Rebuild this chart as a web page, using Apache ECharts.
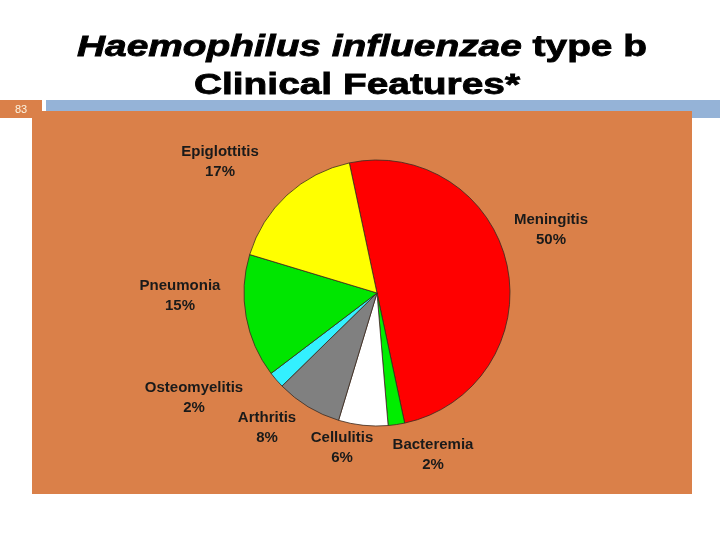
<!DOCTYPE html>
<html>
<head>
    <meta charset="utf-8">
    <title>Hib Clinical Features</title>
    <script src="https://cdn.jsdelivr.net/npm/echarts@6/dist/echarts.min.js"></script>
    <style>
        html, body { margin: 0; padding: 0; background: #fff; }
        #main { width: 720px; height: 540px; }
    </style>
</head>
<body>
<div id="main"></div>
<script>
    // slices in clockwise order from the top
    var features = ['Meningitis', 'Bacteremia', 'Cellulitis', 'Arthritis', 'Osteomyelitis', 'Pneumonia', 'Epiglottitis'];
    var percents = [50, 2, 6, 8, 2, 15, 17];
    var colors = ['#ff0000', '#00ee00', '#ffffff', '#808080', '#33f0ff', '#00e600', '#ffff00'];

    // label centres (hand placed, like the slide)
    var labelPos = [[551, 230], [433, 455], [342, 448], [267, 428], [194, 398], [180, 296], [220, 162]];

    var orange = '#da8049';
    var font = '"Liberation Sans", Arial, sans-serif';

    var pieData = features.map(function (name, i) {
        return { name: name, value: percents[i], itemStyle: { color: colors[i] } };
    });

    // slide title: wide heavy face, so stretch Liberation Sans a bit
    function titleLine(text, x, y) {
        return {
            type: 'text',
            z: -5,
            x: x,
            y: y,
            scaleX: 1.34,
            style: {
                text: text,
                font: 'bold 29px ' + font,
                fill: '#000',
                stroke: '#000',
                lineWidth: 0.8,
                align: 'center',
                verticalAlign: 'middle',
                rich: {
                    i: { font: 'italic bold 29px ' + font, fill: '#000', stroke: '#000', lineWidth: 0.8 }
                }
            }
        };
    }

    var myChart = echarts.init(document.getElementById('main'));
    myChart.setOption({
        backgroundColor: '#fff',
        animation: false,
        graphic: [
            { type: 'rect', z: -10, shape: { x: 46, y: 100, width: 674, height: 18 }, style: { fill: '#95b3d7' } },
            { type: 'rect', z: -9, shape: { x: 0, y: 100, width: 42, height: 18 }, style: { fill: orange } },
            { type: 'rect', z: -9, shape: { x: 32, y: 111, width: 660, height: 383 }, style: { fill: orange } },
            { type: 'text', z: -8, x: 21, y: 110, style: { text: '83', fill: '#fdf3e0', font: '11px ' + font, align: 'center', verticalAlign: 'middle' } },
            titleLine('{i|Haemophilus influenzae} type b', 362, 48),
            titleLine('Clinical Features*', 357, 86)
        ],
        series: [{
            type: 'pie',
            center: [377, 293],
            radius: 133,
            startAngle: 102,
            clockwise: true,
            data: pieData,
            itemStyle: { borderColor: '#3a2a20', borderWidth: 0.8 },
            label: {
                show: true,
                position: 'outside',
                formatter: '{b}\n{c}%',
                fontFamily: font,
                fontSize: 15,
                fontWeight: 'bold',
                color: '#1a1a1a',
                lineHeight: 20,
                align: 'center'
            },
            labelLine: { show: false },
            labelLayout: function (params) {
                var p = labelPos[params.dataIndex];
                return { x: p[0], y: p[1], align: 'center', verticalAlign: 'middle' };
            },
            emphasis: { disabled: true }
        }]
    });
</script>
</body>
</html>
